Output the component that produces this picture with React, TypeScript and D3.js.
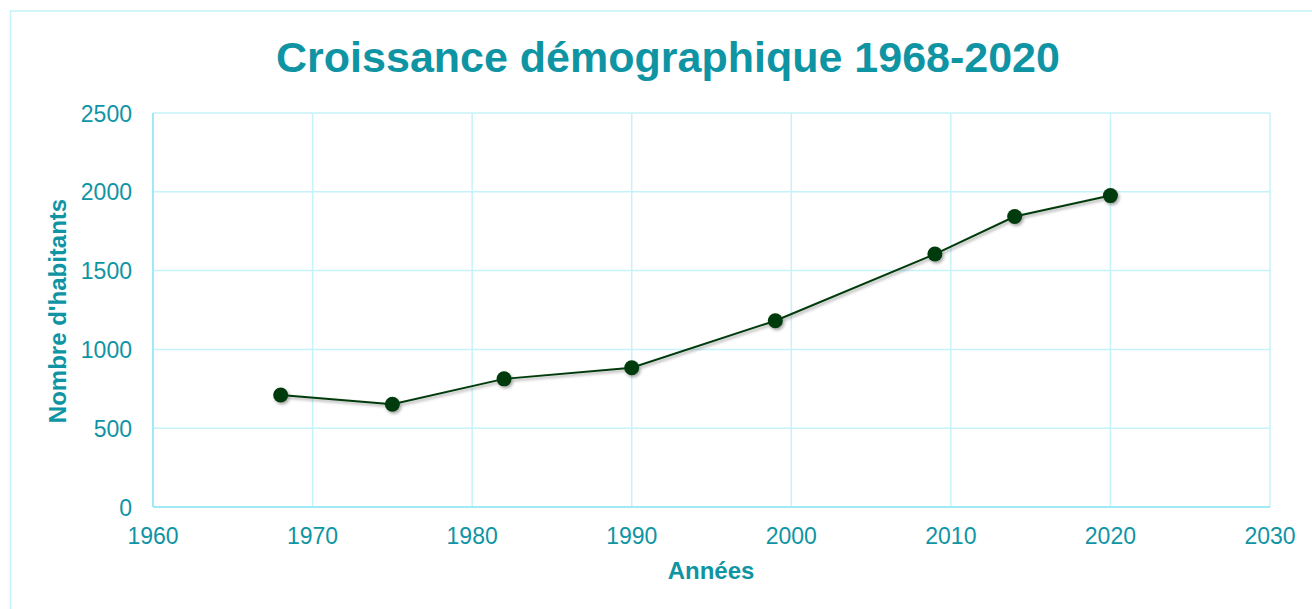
import React from 'react';
import { scaleLinear, line } from 'd3';

const years = [1968, 1975, 1982, 1990, 1999, 2009, 2014, 2020];
const habitants = [711, 652, 813, 884, 1182, 1605, 1843, 1976];
const xTicks = [1960, 1970, 1980, 1990, 2000, 2010, 2020, 2030];
const yTicks = [0, 500, 1000, 1500, 2000, 2500];

const W = 1312;
const H = 609;
const plot = { left: 153, right: 1270, top: 113, bottom: 507 };
const teal = '#0f94a4';
const grid = '#c6f3f9';
const axisCol = '#9feaf5';
const dot = '#013b0b';
const font = 'Arial, "Liberation Sans", sans-serif';

export default function App() {
  const x = scaleLinear().domain([1960, 2030]).range([plot.left, plot.right]);
  const y = scaleLinear().domain([0, 2500]).range([plot.bottom, plot.top]);
  const pts = years.map((yr, i) => [yr, habitants[i]] as [number, number]);
  const path = line<[number, number]>()
    .x((d) => x(d[0]))
    .y((d) => y(d[1]))(pts);

  return (
    <svg width={W} height={H} style={{ position: 'absolute', left: 0, top: 0 }} fontFamily={font}>
      <defs>
        <filter id="shadow" x="-50%" y="-50%" width="200%" height="200%">
          <feDropShadow dx="1.5" dy="2" stdDeviation="1.6" floodColor="#000" floodOpacity="0.35" />
        </filter>
      </defs>
      <rect x={0} y={0} width={W} height={H} fill="#fff" />
      <rect x={10.5} y={11} width={W + 20} height={H + 20} fill="none" stroke={grid} strokeWidth={1.5} />

      <text x={668} y={72} textAnchor="middle" fill={teal} fontSize={43} fontWeight="bold">
        Croissance démographique 1968-2020
      </text>

      {yTicks.map((t) => (
        <line key={'gy' + t} x1={plot.left} x2={plot.right} y1={y(t)} y2={y(t)} stroke={grid} strokeWidth={1.5} />
      ))}
      {xTicks.map((t) => (
        <line key={'gx' + t} x1={x(t)} x2={x(t)} y1={plot.top} y2={plot.bottom} stroke={grid} strokeWidth={1.5} />
      ))}
      <line x1={plot.left} x2={plot.left} y1={plot.top} y2={plot.bottom} stroke={axisCol} strokeWidth={2} />
      <line x1={plot.left} x2={plot.right} y1={plot.bottom} y2={plot.bottom} stroke={axisCol} strokeWidth={2} />

      {yTicks.map((t) => (
        <text key={'ly' + t} x={132} y={y(t) + 8.5} textAnchor="end" fill={teal} fontSize={23}>
          {t}
        </text>
      ))}
      {xTicks.map((t) => (
        <text key={'lx' + t} x={x(t)} y={544} textAnchor="middle" fill={teal} fontSize={23}>
          {t}
        </text>
      ))}

      <text
        transform={`translate(66,311) rotate(-90)`}
        textAnchor="middle"
        fill={teal}
        fontSize={24}
        fontWeight="bold"
      >
        Nombre d'habitants
      </text>
      <text x={711} y={579} textAnchor="middle" fill={teal} fontSize={24} fontWeight="bold">
        Années
      </text>

      <g filter="url(#shadow)">
        <path d={path || ''} fill="none" stroke={dot} strokeWidth={2} />
        {pts.map((d) => (
          <circle key={d[0]} cx={x(d[0])} cy={y(d[1])} r={7.5} fill={dot} />
        ))}
      </g>
    </svg>
  );
}
